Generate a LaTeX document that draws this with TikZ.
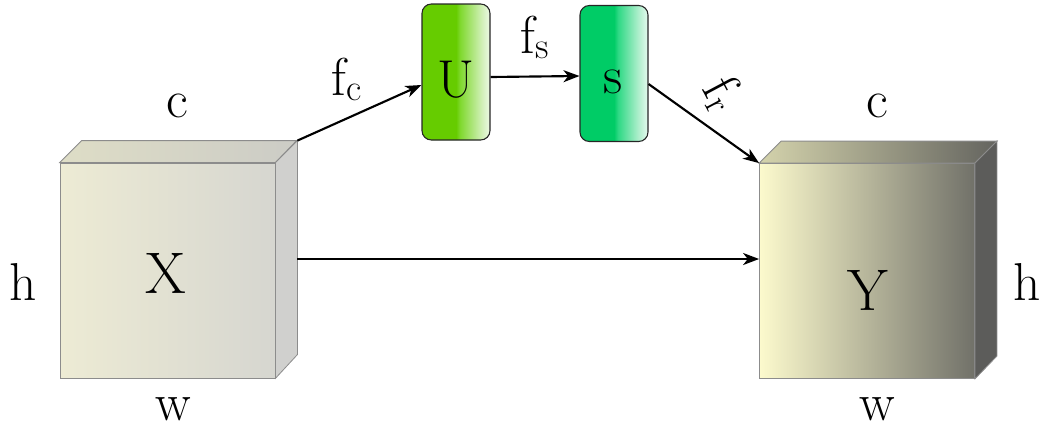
\documentclass[tikz,border=0pt]{standalone}
\usepackage{fontspec}
\usetikzlibrary{arrows.meta,calc}

% glossy fills for the two small blocks
\pgfdeclarehorizontalshading{glossU}{100bp}{rgb(0bp)=(0.40,0.80,0.00); rgb(25bp)=(0.40,0.80,0.00); rgb(50bp)=(0.40,0.80,0.00); rgb(53bp)=(0.50,0.85,0.18); rgb(69bp)=(0.82,0.94,0.72); rgb(75bp)=(0.93,0.98,0.90); rgb(100bp)=(0.93,0.98,0.90)}
\pgfdeclarehorizontalshading{glossS}{100bp}{rgb(0bp)=(0.00,0.80,0.40); rgb(25bp)=(0.00,0.80,0.40); rgb(50bp)=(0.00,0.80,0.40); rgb(53bp)=(0.18,0.85,0.52); rgb(69bp)=(0.72,0.94,0.82); rgb(75bp)=(0.90,0.98,0.94); rgb(100bp)=(0.90,0.98,0.94)}

\definecolor{xfl}{RGB}{237,235,212}
\definecolor{xfr}{RGB}{214,214,208}
\definecolor{xtl}{RGB}{222,221,198}
\definecolor{xtr}{RGB}{204,204,198}
\definecolor{xside}{RGB}{208,208,206}
\definecolor{yfl}{RGB}{252,250,205}
\definecolor{yfr}{RGB}{113,113,105}
\definecolor{ytl}{RGB}{212,211,172}
\definecolor{ytr}{RGB}{100,100,95}
\definecolor{yside}{RGB}{92,92,90}
\definecolor{edge}{RGB}{140,140,140}

\tikzset{
  face/.style={draw=edge, line width=0.6pt},
  cubefront/.style={face, rectangle, minimum width=161.25pt, minimum height=161.25pt, inner sep=0pt},
  block/.style={rectangle, rounded corners=7pt, draw=black!85, line width=0.8pt,
    minimum width=51pt, minimum height=102pt, inner sep=0pt},
  lbl/.style={font=\fontsize{40}{44}\selectfont, inner sep=0pt, anchor=base},
  big/.style={font=\fontsize{44}{50}\selectfont, inner sep=0pt, anchor=base},
  conn/.style={line width=1.6pt, -{Stealth[length=12pt, width=9pt, inset=3.5pt]}},
}

\begin{document}
\begin{tikzpicture}[x=0.75pt, y=-0.75pt]
\useasboundingbox (0,0) rectangle (1041,436);

% input tensor
\node[cubefront, left color=xfl, right color=xfr] (X) at (167.5,270.5) {};
\path[face, left color=xtl, right color=xtr]
  (X.north west) -- ++(22,-22) -- ++(215,0) -- (X.north east) -- cycle;
\path[face, fill=xside]
  (X.north east) -- ++(22,-22) -- ++(0,214) -- (X.south east) -- cycle;
\coordinate (Xcorner) at ($(X.north east)+(22,-22)$);

% output tensor
\node[cubefront, left color=yfl, right color=yfr] (Y) at (867,271) {};
\path[face, left color=ytl, right color=ytr]
  (Y.north west) -- ++(22,-22) -- ++(216,0) -- (Y.north east) -- cycle;
\path[face, fill=yside]
  (Y.north east) -- ++(22,-22) -- ++(0,215) -- (Y.south east) -- cycle;

% squeeze and excitation blocks
\node[block, shading=glossU] (U) at (456,72) {};
\node[block, shading=glossS] (S) at (614,73.5) {};

% texts
\node[big] (tX) at (166,293) {X};
\node[big] (tY) at (868,310) {Y};
\node[lbl] (tU) at (456,97) {U};
\node[lbl] (tS) at (613,93) {s};
\node[lbl] (c1) at (177,117) {c};
\node[lbl] (c2) at (877,117) {c};
\node[lbl] (h1) at (23,300) {h};
\node[lbl] (h2) at (1027,300) {h};
\node[lbl] (w1) at (173,420) {w};
\node[lbl] (w2) at (877,420) {w};
\node[lbl] (fc) at (347,95) {f\textsubscript{c}};
\node[lbl] (fs) at (535,53) {f\textsubscript{s}};
\node[lbl, anchor=center, rotate=-62] (fr) at (723,94) {f\textsubscript{r}};

% connectors
\coordinate (Xmid) at (297,259);
\draw[conn] (Xcorner) -- (U.west |- 0,85);
\draw[conn] (U.east |- 0,77) -- (S.west |- 0,76);
\draw[conn] (S.east |- 0,84) -- (Y.north west);
\draw[conn] (Xmid) -- (Y.west |- Xmid);
\end{tikzpicture}
\end{document}
